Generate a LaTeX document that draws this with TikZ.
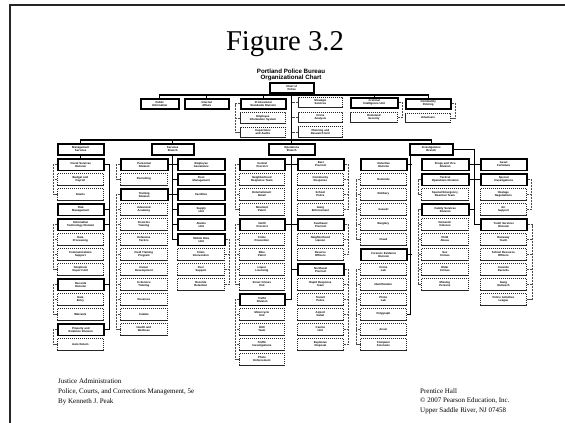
\documentclass[tikz,border=0pt]{standalone}
\usepackage{fontspec}
\setmainfont{Liberation Serif}
\newfontfamily\orgsans{Liberation Sans}
\newcommand\orgfont{\orgsans\bfseries\fontsize{2.8}{3.0}\selectfont}

\tikzset{
  orgbox/.style={anchor=north west, inner sep=0pt, minimum height=11.5pt, align=center, font=\orgfont},
  sb/.style={orgbox, draw=black, line width=1.5pt},
  db/.style={orgbox, draw=black!85, line width=0.8pt, dash pattern=on 1.2pt off 0.8pt},
  conn/.style={draw=black, line width=1.1pt},
  brk/.style={draw=black!70, line width=0.6pt, dash pattern=on 0.9pt off 0.6pt},
}

% one column of unit boxes: prefix, left x, width, list of kind/text
\newcommand\orgcol[4]{%
  \pgfmathsetmacro\orgtw{#3-4}%
  \foreach \kk/\tx [count=\ii] in {#4}{%
    \pgfmathsetmacro\yy{158+15*(\ii-1)}%
    \node[\kk, minimum width=#3pt, text width=\orgtw pt] (#1\ii) at (#2,\yy) {\tx};
  }%
}
% dotted group brackets on the left / right side of a column
\newcommand\lbrk[4]{%
  \draw[brk] (#1#2.west) -- ++(-#4,0) |- (#1#3.west);
  \foreach \jj in {#2,...,#3} \draw[brk] (#1\jj.west) -- ++(-#4,0);
}
\newcommand\rbrk[4]{%
  \draw[brk] (#1#2.east) -- ++(#4,0) |- (#1#3.east);
  \foreach \jj in {#2,...,#3} \draw[brk] (#1\jj.east) -- ++(#4,0);
}

\begin{document}
\begin{tikzpicture}[x=1pt,y=-1pt]
\useasboundingbox[fill=white] (0,0) rectangle (565,423);

% slide frame
\draw[line width=1.8pt, black!85] (565,5) -- (10,5) -- (10,423);

% headings
\node[anchor=base, font=\fontsize{28.7}{30}\selectfont] (title) at (285,50) {Figure 3.2};
\node[font=\orgsans\bfseries\fontsize{6.2}{6.6}\selectfont, align=center, inner sep=0pt] (subtitle) at (291,75)
  {Portland Police Bureau\\Organizational Chart};

% chief and staff units
\node[sb, minimum width=44pt, text width=40pt, minimum height=10pt] (chief) at (269,82) {Chief of\\Police};
\node[sb, minimum width=38pt, text width=34pt, minimum height=10pt] (A1) at (140,98) {Public\\Information};
\node[sb, minimum width=44pt, text width=40pt, minimum height=10pt] (B1) at (184,98) {Internal\\Affairs};
\node[sb, minimum width=45pt, text width=41pt, minimum height=10pt] (C1) at (240,98) {Professional\\Standards Division};
\node[db, minimum width=45pt, text width=41pt, minimum height=11pt] (C2) at (240,112) {Employee\\Information System};
\node[db, minimum width=45pt, text width=41pt, minimum height=10pt] (C3) at (240,127) {Inspections\\and Audits};
\node[db, minimum width=44pt, text width=40pt, minimum height=10pt] (D1) at (298,97) {Strategic\\Services};
\node[db, minimum width=44pt, text width=40pt, minimum height=10pt] (D2) at (298,112) {Crime\\Analysis};
\node[db, minimum width=44pt, text width=40pt, minimum height=11pt] (D3) at (298,126) {Planning and\\Research Unit};
\node[sb, minimum width=47pt, text width=43pt, minimum height=10pt] (E1) at (350,97) {Criminal\\Intelligence Unit};
\node[db, minimum width=47pt, text width=43pt, minimum height=10pt] (E2) at (350,112) {Homeland\\Security};
\node[sb, minimum width=45pt, text width=41pt, minimum height=10pt] (F1) at (405,98) {Community\\Policing};
\node[db, minimum width=45pt, text width=41pt, minimum height=9pt] (F2) at (405,113) {Volunteers};

% branch heads
\node[sb, minimum width=46pt, text width=42pt, minimum height=11pt] (LH) at (57,143) {Management\\Services};
\node[sb, minimum width=42pt, text width=38pt, minimum height=11pt] (MH) at (151,143) {Services\\Branch};
\node[sb, minimum width=46pt, text width=42pt, minimum height=11pt] (OH) at (268,143) {Operations\\Branch};
\node[sb, minimum width=43pt, text width=39pt, minimum height=11pt] (RH) at (409,143) {Investigations\\Branch};

% unit columns
\orgcol{L}{57}{46}{sb/{Fiscal Services\\Division}, db/{Budget and\\Payroll}, db/{Grants}, sb/{Risk\\Management}, sb/{Information\\Technology Division},
  db/{Data\\Processing}, db/{Communications\\Support}, db/{Telephone\\Report Unit}, sb/{Records\\Division}, db/{Data\\Entry}, db/{Warrants},
  sb/{Property and\\Evidence Division}, db/{Auto Return}}
\orgcol{M}{120}{47}{sb/{Personnel\\Division}, db/{Recruiting}, sb/{Training\\Division}, db/{Advanced\\Academy}, db/{Firearms\\Training},
  db/{Defensive\\Tactics}, db/{Field Training\\Program}, db/{Career\\Development}, db/{In-Service\\Training}, db/{Reserves},
  db/{Cadets}, db/{Health and\\Wellness}}
\orgcol{N}{177}{47}{sb/{Employee\\Assistance}, sb/{Fleet\\Management}, sb/{Facilities}, sb/{Supply\\Unit}, sb/{Alarms\\Unit},
  sb/{Mobile Data\\Unit}, db/{Crisis\\Intervention}, db/{Peer\\Support}, db/{Records\\Retention}}
\orgcol{O}{239}{45}{sb/{Central\\Precinct}, db/{Neighborhood\\Response Team}, db/{Entertainment\\Detail}, db/{Mounted\\Patrol},
  sb/{North\\Precinct}, db/{Crime\\Prevention}, db/{Bike\\Patrol}, db/{Liquor\\Licensing}, db/{Street Crimes\\Unit},
  sb/{Traffic\\Division}, db/{Motorcycle\\Unit}, db/{DUII\\Team}, db/{Traffic\\Investigations}, db/{Photo\\Enforcement}}
\orgcol{P}{297}{46}{sb/{East\\Precinct}, db/{Community\\Response}, db/{School\\Police}, db/{Gang\\Enforcement},
  sb/{Southeast\\Precinct}, db/{Neighborhood\\Liaison}, db/{Reserve\\Officers}, sb/{Northeast\\Precinct},
  db/{Rapid Response\\Team}, db/{Transit\\Police}, db/{Airport\\Detail}, db/{Canine\\Unit}, db/{Explosive\\Disposal}}
\orgcol{Q}{360}{46}{sb/{Detective\\Division}, db/{Homicide}, db/{Robbery}, db/{Assault}, db/{Burglary}, db/{Fraud},
  sb/{Forensic Evidence\\Division}, db/{Crime\\Lab}, db/{Identification}, db/{Photo\\Lab}, db/{Polygraph},
  db/{Arson}, db/{Computer\\Forensics}}
\orgcol{R}{421}{47}{sb/{Drugs and Vice\\Division}, sb/{Tactical\\Operations Division}, db/{Special Emergency\\Reaction Team},
  sb/{Family Services\\Division}, db/{Domestic\\Violence}, db/{Child\\Abuse}, db/{Sex\\Crimes}, db/{Elder\\Crimes}, db/{Missing\\Persons}}
\orgcol{S}{480}{46}{sb/{Asset\\Forfeiture}, sb/{Special\\Investigations}, db/{Hostage\\Negotiations}, db/{Air\\Support},
  sb/{Youth Services\\Division}, db/{Runaway\\Youth}, db/{School Resource\\Officers}, db/{Juvenile\\Records},
  db/{Gang\\Outreach}, db/{Police Activities\\League}}

% chief to staff units and branches
\draw[conn] (chief.south) -- (OH.north);
\draw[conn] (A1.north) -- ++(0,-3) -| (F1.north);
\foreach \n in {B1,C1,E1} \draw[conn] (\n.north) -- ++(0,-3);
\lbrk{C}{1}{3}{5}
\foreach \jj in {1,2,3} \draw[brk] (D\jj.west) -- (D\jj.west -| chief.south);
\rbrk{E}{1}{2}{4}
\rbrk{F}{1}{2}{4}
\draw[conn] (LH.north) -- ++(0,-3) -| (RH.north);
\draw[conn] (MH.north) -- ++(0,-3);

% management services column
\draw[conn] (LH.south) -- (L1.north);
\draw[conn] (L1.east) -- ++(5,0) |- (L12.east);
\foreach \jj in {4,5,9} \draw[conn] (L\jj.east) -- ++(5,0);
\lbrk{L}{1}{3}{4}
\lbrk{L}{5}{8}{4}
\lbrk{L}{9}{11}{4}
\lbrk{L}{12}{13}{4}

% services branch
\draw[conn] (MH.south) -- (MH.south |- N6.west) -- (N6.west);
\foreach \jj in {1,...,5} \draw[conn] (MH.south |- N\jj.west) -- (N\jj.west);
\foreach \jj in {1,3} \draw[conn] (M\jj.east) -- (MH.south |- M\jj.east);
\lbrk{M}{1}{2}{4}
\lbrk{M}{3}{12}{4}
\rbrk{N}{6}{9}{4}

% operations branch
\draw[conn] (OH.south) -- (OH.south |- O10.east);
\foreach \jj in {1,5,10} \draw[conn] (O\jj.east) -- (OH.south |- O\jj.east);
\foreach \jj in {1,5,8} \draw[conn] (OH.south |- P\jj.west) -- (P\jj.west);
\lbrk{O}{1}{4}{4}
\lbrk{O}{5}{9}{4}
\lbrk{O}{10}{14}{4}
\rbrk{P}{1}{4}{4}
\rbrk{P}{5}{7}{4}
\rbrk{P}{8}{13}{4}

% investigations branch
\draw[conn] ([xshift=1.5pt]RH.south west) |- (Q11.east);
\foreach \jj in {1,7} \draw[conn] (Q\jj.east) -- ++(4.5,0);
\lbrk{Q}{2}{6}{4}
\lbrk{Q}{8}{13}{4}
\draw[conn] (RH.east) -- ++(21,0) |- (S5.west);
\foreach \jj in {1,2} \draw[conn] (R\jj.east) -- (S\jj.west);
\draw[conn] (R4.east) -- ++(5,0);
\lbrk{R}{2}{3}{3}
\lbrk{R}{4}{9}{3}
\rbrk{S}{2}{4}{4}
\rbrk{S}{5}{10}{5}

% credits
\node[anchor=north west, align=left, inner sep=0pt, font=\fontsize{7}{10}\selectfont] (book) at (58,378)
  {Justice Administration\\Police, Courts, and Corrections Management, 5e\\By Kenneth J. Peak};
\node[anchor=north west, align=left, inner sep=0pt, font=\fontsize{7}{9.5}\selectfont] (publisher) at (420,388)
  {Prentice Hall\\\textcopyright{} 2007 Pearson Education, Inc.\\Upper Saddle River, NJ 07458};
\end{tikzpicture}
\end{document}
